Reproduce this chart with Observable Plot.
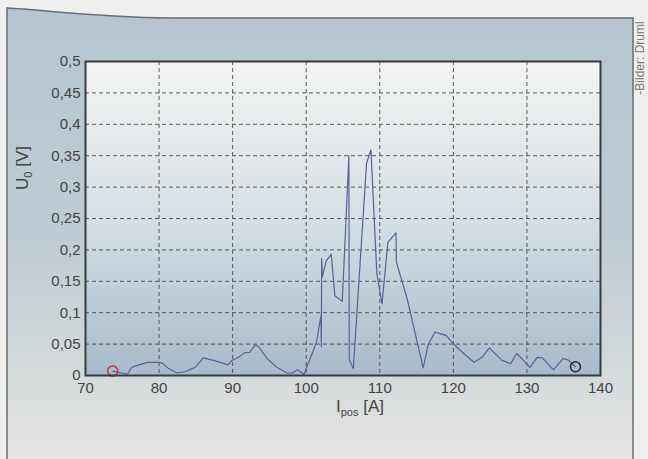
<!DOCTYPE html>
<html><head><meta charset="utf-8">
<script src="https://cdn.jsdelivr.net/npm/d3@7"></script>
<script src="https://cdn.jsdelivr.net/npm/@observablehq/plot@0.6"></script>
<style>
html,body{margin:0;padding:0;background:#efefed;}
#wrap{position:relative;width:648px;height:459px;overflow:hidden;font-family:"Liberation Sans",Arial,sans-serif;}
#bg{position:absolute;left:0;top:0;}
#chart{position:absolute;left:0;top:0;}
.lbl{position:absolute;color:#444;font-size:17px;white-space:nowrap;line-height:1;}
.lbl sub{font-size:11px;vertical-align:-4px;}
#ylab{left:24px;top:168px;transform:translate(-50%,-50%) rotate(-90deg);}
#xlab{left:360px;top:398px;transform:translateX(-50%);}
#credit{position:absolute;left:640px;top:58px;transform:translate(-50%,-50%) rotate(-90deg);font-size:12px;color:#7a7a7a;white-space:nowrap;line-height:1;}
</style></head><body>
<div id="wrap">
<svg id="bg" width="648" height="459">
<defs>
<linearGradient id="panelGrad" x1="0" y1="0" x2="0" y2="1">
 <stop offset="0" stop-color="#b6c5cf"/>
 <stop offset="0.5" stop-color="#bfcbd2"/>
 <stop offset="0.85" stop-color="#d8dcdc"/>
 <stop offset="1" stop-color="#e6e6e4"/>
</linearGradient>
<linearGradient id="plotGrad" x1="0" y1="0" x2="0" y2="1">
 <stop offset="0" stop-color="#f3f4f3"/>
 <stop offset="0.5" stop-color="#d6dfe4"/>
 <stop offset="1" stop-color="#a7bacb"/>
</linearGradient>
</defs>
<path d="M7,8 C45,10 95,17 170,18 L633,18 L633,462 L7,462 Z" fill="url(#panelGrad)" stroke="#6a6e72" stroke-width="1.5"/>
</svg>
<div id="chart"></div>
<div class="lbl" id="ylab">U<sub>0</sub> [V]</div>
<div class="lbl" id="xlab">I<sub>pos</sub> [A]</div>
<div id="credit">-Bilder: Druml</div>
</div>
<script>
// current I_pos [A]
const ipos = [73.7, 75.7, 76.2, 76.7, 78.5, 79.7, 80.4, 81.3, 82.4, 83.5, 84.9, 86.0, 87.4,
  89.4, 89.9, 90.8, 91.6, 92.3, 93.1, 93.6, 94.7, 96.0, 97.4, 98.1, 98.8, 99.7,
  101.4, 102.0, 102.05, 102.1, 102.2, 102.7, 103.4, 103.9, 104.9, 105.5, 105.8, 105.85, 106.4,
  108.2, 108.8, 109.6, 110.3, 111.1, 112.2, 112.25, 113.7, 115.9, 116.6, 117.5, 119.0,
  119.8, 121.4, 122.8, 123.9, 124.9, 126.6, 127.8, 128.6, 129.3, 130.4, 131.4, 132.1,
  133.6, 134.9, 135.7, 136.6];
// voltage U_0 [V]
const u0 = [0.007, 0.002, 0.012, 0.015, 0.021, 0.021, 0.020, 0.011, 0.004, 0.006, 0.013, 0.028, 0.024,
  0.017, 0.024, 0.029, 0.036, 0.037, 0.049, 0.045, 0.027, 0.013, 0.004, 0.004, 0.009, 0.002,
  0.053, 0.095, 0.046, 0.186, 0.157, 0.182, 0.193, 0.127, 0.118, 0.271, 0.350, 0.025, 0.011,
  0.338, 0.359, 0.162, 0.114, 0.212, 0.227, 0.181, 0.123, 0.012, 0.050, 0.069, 0.064,
  0.053, 0.035, 0.021, 0.029, 0.044, 0.024, 0.019, 0.035, 0.027, 0.013, 0.029, 0.028,
  0.009, 0.027, 0.024, 0.014];
// start / end markers
const markerX = [73.7, 136.6];
const markerY = [0.007, 0.014];
const markerColor = ["#c0392b", "#2a2a2a"];
// ticks
const xTicks = [70, 80, 90, 100, 110, 120, 130, 140];
const yTicks = [0, 0.05, 0.1, 0.15, 0.2, 0.25, 0.3, 0.35, 0.4, 0.45, 0.5];

const data = ipos.map((x, i) => ({x, y: u0[i]}));
const markers = markerX.map((x, i) => ({x, y: markerY[i], c: markerColor[i]}));
const fmt = d => String(d).replace(".", ",");

const chart = Plot.plot({
  width: 648, height: 459,
  marginLeft: 85, marginRight: 48, marginTop: 61, marginBottom: 84,
  style: {background: "transparent", fontFamily: "'Liberation Sans', Arial, sans-serif", fontSize: "15px", color: "#444"},
  x: {domain: [70, 140], ticks: xTicks, tickFormat: d => String(d), label: null},
  y: {domain: [0, 0.5], ticks: yTicks, tickFormat: fmt, label: null},
  marks: [
    Plot.frame({fill: "url(#plotGrad)", stroke: null}),
    Plot.gridX(xTicks.slice(1, -1), {stroke: "#4a4a4a", strokeOpacity: 0.9, strokeDasharray: "4,3", strokeWidth: 1}),
    Plot.gridY(yTicks.slice(1, -1), {stroke: "#4a4a4a", strokeOpacity: 0.9, strokeDasharray: "4,3", strokeWidth: 1}),
    Plot.axisX(xTicks, {tickSize: 0, tickPadding: 7, fontSize: 15, fill: "#444", tickFormat: d => String(d)}),
    Plot.axisY(yTicks, {tickSize: 0, tickPadding: 5, fontSize: 15, fill: "#444", tickFormat: fmt}),
    Plot.line(data, {x: "x", y: "y", stroke: "#56629a", strokeWidth: 1.2}),
    Plot.dot(markers, {x: "x", y: "y", r: 5, stroke: d => d.c, strokeWidth: 1.5, fill: "none"}),
    Plot.frame({stroke: "#3a3a3a", strokeWidth: 2})
  ]
});
document.getElementById("chart").appendChild(chart);
</script>
</body></html>
